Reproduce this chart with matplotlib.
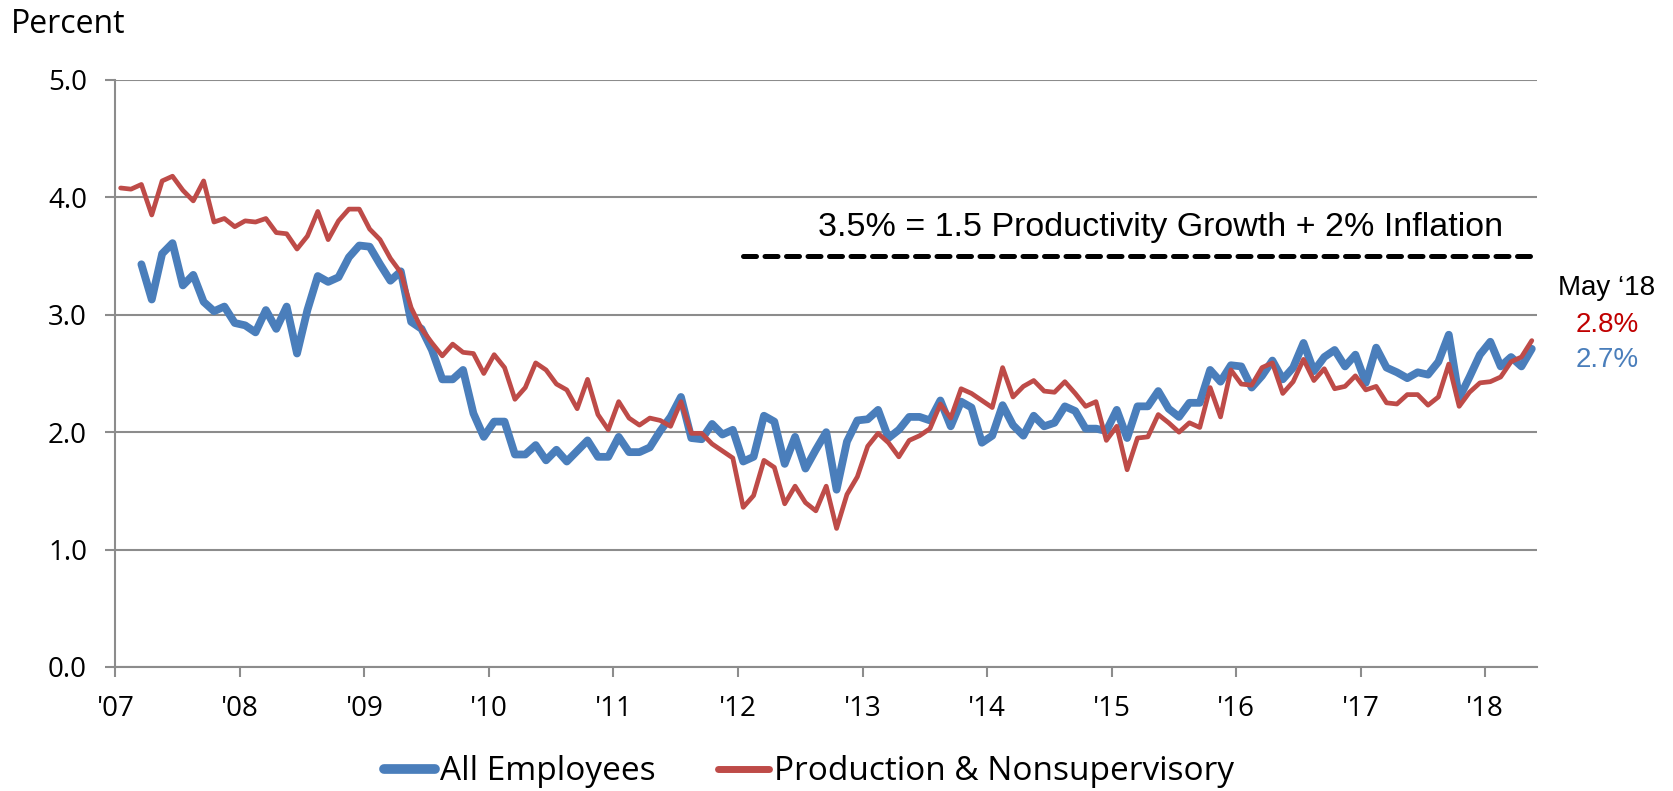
import matplotlib
matplotlib.use("Agg")
import matplotlib.pyplot as plt
import numpy as np

# Year-over-year growth in average hourly earnings, monthly, Jan 2007 - May 2018
year_labels = ["'07", "'08", "'09", "'10", "'11", "'12", "'13", "'14", "'15", "'16", "'17", "'18"]

production_nonsupervisory = [
    4.08, 4.07, 4.11, 3.85, 4.14, 4.18, 4.06, 3.97, 4.14, 3.79, 3.82, 3.75,   # 2007
    3.80, 3.79, 3.82, 3.70, 3.69, 3.56, 3.67, 3.88, 3.64, 3.80, 3.90, 3.90,   # 2008
    3.73, 3.64, 3.48, 3.36, 3.06, 2.88, 2.76, 2.65, 2.75, 2.68, 2.67, 2.50,   # 2009
    2.66, 2.55, 2.28, 2.38, 2.59, 2.53, 2.41, 2.36, 2.20, 2.45, 2.15, 2.02,   # 2010
    2.26, 2.12, 2.06, 2.12, 2.10, 2.05, 2.26, 1.99, 1.99, 1.90, 1.84, 1.78,   # 2011
    1.36, 1.46, 1.76, 1.70, 1.39, 1.54, 1.40, 1.33, 1.54, 1.18, 1.47, 1.62,   # 2012
    1.88, 1.99, 1.91, 1.79, 1.93, 1.97, 2.03, 2.24, 2.12, 2.37, 2.33, 2.27,   # 2013
    2.21, 2.55, 2.30, 2.39, 2.44, 2.35, 2.34, 2.43, 2.33, 2.22, 2.26, 1.93,   # 2014
    2.05, 1.68, 1.95, 1.96, 2.15, 2.08, 2.00, 2.08, 2.04, 2.38, 2.13, 2.53,   # 2015
    2.41, 2.40, 2.55, 2.59, 2.33, 2.43, 2.62, 2.44, 2.54, 2.37, 2.39, 2.48,   # 2016
    2.36, 2.39, 2.25, 2.24, 2.32, 2.32, 2.23, 2.30, 2.58, 2.22, 2.34, 2.42,   # 2017
    2.43, 2.47, 2.60, 2.64, 2.78,                                             # 2018
]

# All-employee series begins in March 2007
all_employees_start = 2
all_employees = [
    3.43, 3.13, 3.52, 3.61, 3.25, 3.34, 3.11, 3.03, 3.07, 2.93,               # 2007
    2.91, 2.85, 3.04, 2.88, 3.07, 2.67, 3.04, 3.33, 3.28, 3.32, 3.49, 3.59,   # 2008
    3.58, 3.43, 3.29, 3.37, 2.94, 2.88, 2.70, 2.45, 2.45, 2.53, 2.16, 1.96,   # 2009
    2.09, 2.09, 1.81, 1.81, 1.89, 1.76, 1.85, 1.75, 1.84, 1.93, 1.79, 1.79,   # 2010
    1.96, 1.83, 1.83, 1.87, 2.01, 2.13, 2.30, 1.95, 1.94, 2.07, 1.98, 2.02,   # 2011
    1.75, 1.79, 2.14, 2.09, 1.73, 1.96, 1.69, 1.85, 2.00, 1.51, 1.92, 2.10,   # 2012
    2.11, 2.19, 1.95, 2.02, 2.13, 2.13, 2.10, 2.27, 2.05, 2.26, 2.21, 1.91,   # 2013
    1.97, 2.23, 2.06, 1.97, 2.14, 2.05, 2.08, 2.22, 2.18, 2.03, 2.03, 2.01,   # 2014
    2.19, 1.95, 2.22, 2.22, 2.35, 2.20, 2.13, 2.25, 2.25, 2.53, 2.43, 2.57,   # 2015
    2.56, 2.38, 2.48, 2.61, 2.45, 2.55, 2.76, 2.52, 2.64, 2.70, 2.56, 2.66,   # 2016
    2.42, 2.72, 2.55, 2.51, 2.46, 2.51, 2.49, 2.60, 2.83, 2.29, 2.47, 2.66,   # 2017
    2.77, 2.56, 2.64, 2.56, 2.71,                                             # 2018
]

# Benchmark: 1.5% productivity growth + 2% inflation, shown from Jan 2012
benchmark_value = 3.5
benchmark_start = 60
benchmark_text = "3.5% = 1.5 Productivity Growth + 2% Inflation"

latest_label = "May \u201818"
latest_red = "2.8%"
latest_blue = "2.7%"

BLUE = "#4a7ebb"
RED = "#be4b48"
GRID = "#8c8c8c"
UI_FONT = ["Open Sans", "DejaVu Sans"]
ARIAL = ["Liberation Sans", "DejaVu Sans"]

n_months = len(production_nonsupervisory)
x_red = np.arange(n_months) + 0.5
x_blue = np.arange(all_employees_start, all_employees_start + len(all_employees)) + 0.5

fig = plt.figure(figsize=(16.73, 7.91), dpi=100)
ax = fig.add_axes([0.0690, 0.1568, 0.8497, 0.7421])

ax.plot(x_blue, all_employees, color=BLUE, lw=5.6, solid_joinstyle="round",
        solid_capstyle="round", label="All Employees", zorder=3)
ax.plot(x_red, production_nonsupervisory, color=RED, lw=3.4, solid_joinstyle="round",
        solid_capstyle="round", label="Production & Nonsupervisory", zorder=4)

ax.plot([benchmark_start + 0.5, n_months], [benchmark_value] * 2, color="black",
        lw=3.6, linestyle=(0, (2.6, 1.7)), dash_capstyle="round", zorder=5)
ax.text(100.7, 3.74, benchmark_text, ha="center", va="center", fontsize=24.5,
        family=ARIAL)

ax.set_xlim(0, n_months)
ax.set_ylim(0, 5)
ax.set_yticks(np.arange(0, 5.01, 1.0))
ax.set_yticklabels([f"{v:.1f}" for v in np.arange(0, 5.01, 1.0)])
ax.set_xticks(np.arange(0, 12 * len(year_labels), 12))
ax.set_xticklabels(year_labels)

ax.grid(axis="y", color=GRID, lw=1.5)
ax.set_axisbelow(True)
for side in ["top", "right"]:
    ax.spines[side].set_visible(False)
for side in ["left", "bottom"]:
    ax.spines[side].set_color(GRID)
    ax.spines[side].set_linewidth(1.5)

ax.tick_params(axis="both", colors=GRID, length=7.5, width=1.5, labelcolor="black",
               labelsize=20)
ax.tick_params(axis="y", pad=13)
ax.tick_params(axis="x", pad=13)
for lbl in ax.get_xticklabels() + ax.get_yticklabels():
    lbl.set_family(UI_FONT)

fig.text(11 / 1673, 1 - 33 / 791, "Percent", ha="left", va="baseline",
         fontsize=23, family=UI_FONT)

fig.text(1607 / 1673, 1 - 288 / 791, latest_label, ha="center", va="center",
         fontsize=20, family=ARIAL, color="black")
fig.text(1607 / 1673, 1 - 325 / 791, latest_red, ha="center", va="center",
         fontsize=20, family=ARIAL, color="#c00000")
fig.text(1607 / 1673, 1 - 360 / 791, latest_blue, ha="center", va="center",
         fontsize=20, family=ARIAL, color=BLUE)

leg = fig.legend(loc="center", bbox_to_anchor=(809 / 1673, 1 - 772 / 791), ncol=2,
                 frameon=False, prop={"family": UI_FONT, "size": 24},
                 handlelength=1.55, handletextpad=0.15, columnspacing=1.85,
                 borderaxespad=0, borderpad=0)
handle_widths = [7.0, 5.0]
for h, w in zip(leg.get_lines(), handle_widths):
    h.set_linewidth(w)
    h.set_solid_capstyle("round")

fig.savefig("out.png", dpi=100)
